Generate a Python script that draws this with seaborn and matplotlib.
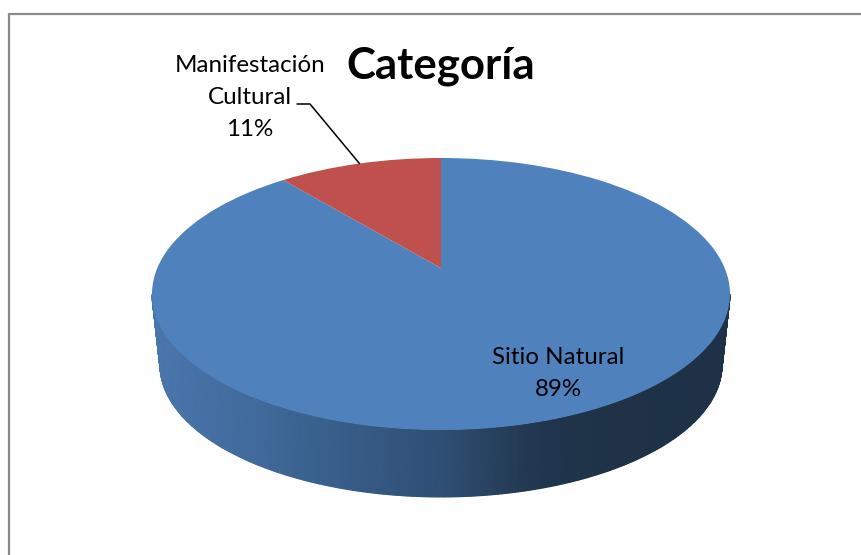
import matplotlib
matplotlib.use('Agg')
import matplotlib.pyplot as plt
import seaborn as sns
import numpy as np
from matplotlib.colors import LinearSegmentedColormap

categories = ['Sitio Natural', 'Manifestación\nCultural']
values = [89, 11]
title = 'Categoría'

sns.set_theme(style='white')
plt.rcParams['font.family'] = ['Lato', 'DejaVu Sans']

W, H = 861, 555
CX, CY, RX, RY = 441, 294, 289, 136
TILT = 0.19  # moves the pie centre up the ellipse, as in a 3d view


def px(x, y):
    # picture pixels to axes data (unit ellipse)
    return (x - CX) / RX, (CY - y) / RY


def tilt(x, y):
    d = 1 + TILT * y
    return x * np.sqrt(1 - TILT ** 2) / d, (y + TILT) / d


def label_lines(lines, x, baselines):
    # one text per line, matplotlib's own line gaps come out uneven here
    for line, y in zip(lines, baselines):
        ax.text(*px(x, y), line, ha='center', va='baseline', fontsize=17.4,
                color='black', zorder=5)


fig = plt.figure(figsize=(W / 100, H / 100), dpi=100)
ax = fig.add_axes([0, 0, 1, 1])

colors = sns.color_palette(['#4f81bd', '#c0504d'])
wedges, _ = ax.pie(values, colors=colors, startangle=90, counterclock=False, radius=1)
for w in wedges:
    p = w.get_path()
    x, y = tilt(p.vertices[:, 0], p.vertices[:, 1])
    p.vertices = np.column_stack([x, y])
    w.set_zorder(3)
    w.set_edgecolor('none')

ax.set_aspect('auto')
ax.set_xlim(px(0, 0)[0], px(W, 0)[0])
ax.set_ylim(px(0, H)[1], px(0, 0)[1])
ax.set_axis_off()

# side wall of the disc
shade = LinearSegmentedColormap.from_list('side', [
    (0.0, '#4a77ad'), (0.19, '#41699a'), (0.26, '#3b6391'), (0.5, '#2f4f74'),
    (0.64, '#243a54'), (0.72, '#1f3349'), (1.0, '#1e3146')])
t = np.linspace(np.pi, 2 * np.pi, 300)
top_x, top_y = np.cos(t), np.sin(t)
base_x = top_x * 281 / RX
base_y = (CY - 365) / RY + np.sin(t) * 132 / RY
mesh_x = np.vstack([top_x, base_x])
mesh_y = np.vstack([top_y, base_y])
ax.pcolormesh(mesh_x, mesh_y, (mesh_x + 1) / 2, cmap=shade, vmin=0, vmax=1,
              shading='gouraud', zorder=2)

# labels
label_lines([categories[0], f'{values[0]}%'], 558, [364, 396])
label_lines(categories[1].split('\n') + [f'{values[1]}%'], 250, [72.5, 104.5, 136.5])
ax.text(*px(441, 79), title, ha='center', va='baseline', fontsize=31.5,
        fontweight='bold', color='black', zorder=5)

# leader line goes to the middle of the small slice
mid = np.deg2rad(90 + values[1] / sum(values) * 180)
end = tilt(np.cos(mid), np.sin(mid))
ax.plot([px(297, 104)[0], px(310, 104)[0], end[0]],
        [px(297, 104)[1], px(310, 104)[1], end[1]], color='black', lw=1.1, zorder=4)

# chart area border, only top and left are in the picture
fig.add_artist(plt.Line2D([8.5 / W, 8.5 / W, 1], [0, 1 - 14 / H, 1 - 14 / H],
                          color='#8a8a8a', linewidth=1.6, transform=fig.transFigure))

fig.savefig('out.png', dpi=100, facecolor='white')
